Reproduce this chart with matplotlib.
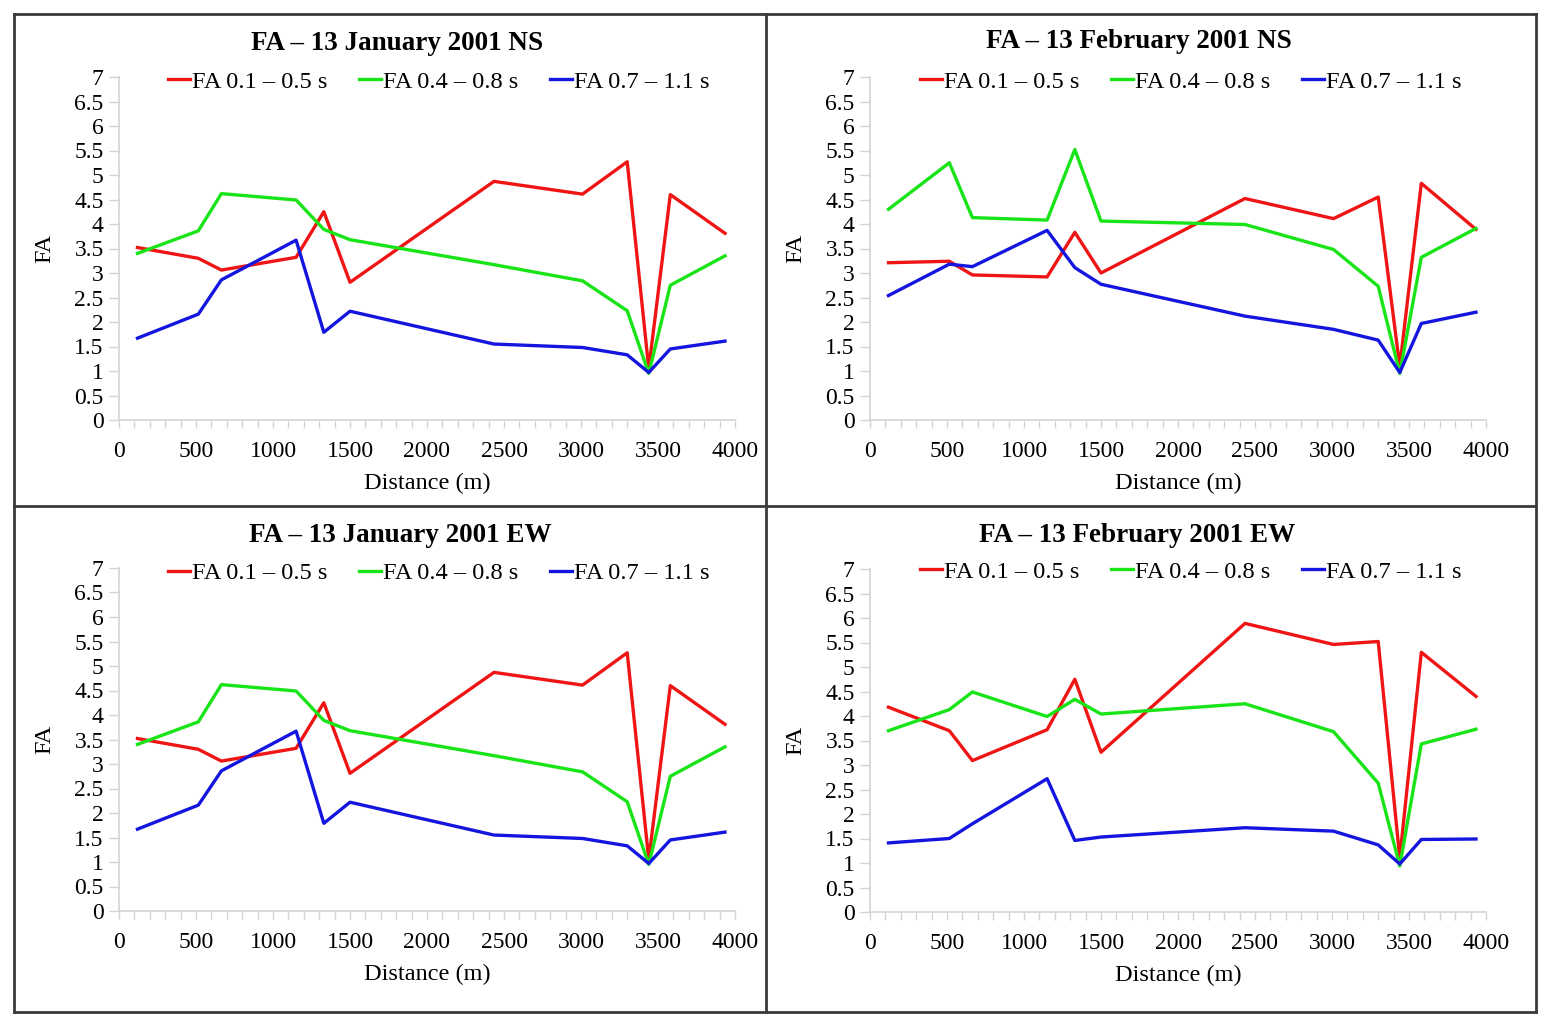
import numpy as np
import matplotlib
matplotlib.use('Agg')
import matplotlib.pyplot as plt
from matplotlib.lines import Line2D
from matplotlib.ticker import MultipleLocator, FormatStrFormatter

plt.rcParams['font.family'] = ['Liberation Serif', 'DejaVu Serif']

# distance of the stations (m)
distance = [120, 515, 665, 1150, 1330, 1500, 2435, 3010, 3300, 3440, 3580, 3935]

series_labels = ['FA 0.1 – 0.5 s', 'FA 0.4 – 0.8 s', 'FA 0.7 – 1.1 s']

# 13 January 2001 NS
jan_ns_01_05 = [3.52, 3.30, 3.06, 3.32, 4.25, 2.81, 4.87, 4.61, 5.27, 1.05, 4.60, 3.81]
jan_ns_04_08 = [3.40, 3.86, 4.62, 4.49, 3.89, 3.68, 3.17, 2.84, 2.23, 0.95, 2.75, 3.35]
jan_ns_07_11 = [1.67, 2.16, 2.86, 3.67, 1.79, 2.22, 1.55, 1.48, 1.33, 0.97, 1.45, 1.61]

# 13 February 2001 NS
feb_ns_01_05 = [3.21, 3.24, 2.96, 2.92, 3.83, 3.00, 4.52, 4.11, 4.55, 1.09, 4.83, 3.89]
feb_ns_04_08 = [4.30, 5.25, 4.13, 4.08, 5.52, 4.06, 3.99, 3.48, 2.73, 0.95, 3.32, 3.91]
feb_ns_07_11 = [2.54, 3.18, 3.13, 3.87, 3.11, 2.77, 2.12, 1.85, 1.63, 0.97, 1.97, 2.20]

# 13 January 2001 EW
jan_ew_01_05 = [3.52, 3.30, 3.06, 3.32, 4.25, 2.81, 4.87, 4.61, 5.27, 1.05, 4.60, 3.81]
jan_ew_04_08 = [3.40, 3.86, 4.62, 4.49, 3.89, 3.68, 3.17, 2.84, 2.23, 0.95, 2.75, 3.35]
jan_ew_07_11 = [1.67, 2.16, 2.86, 3.67, 1.79, 2.22, 1.55, 1.48, 1.33, 0.97, 1.45, 1.61]

# 13 February 2001 EW
feb_ew_01_05 = [4.18, 3.70, 3.09, 3.72, 4.75, 3.26, 5.89, 5.46, 5.52, 1.10, 5.30, 4.40]
feb_ew_04_08 = [3.70, 4.13, 4.49, 3.99, 4.34, 4.04, 4.25, 3.68, 2.63, 0.94, 3.43, 3.73]
feb_ew_07_11 = [1.41, 1.50, 1.80, 2.72, 1.46, 1.53, 1.72, 1.65, 1.37, 0.98, 1.48, 1.49]

colors = ['#f01515', '#18e418', '#1515e0']

W, H = 1549, 1026
fig = plt.figure(figsize=(W / 100, H / 100), dpi=100)


def px(x, y):
    # pixel coords (top-left origin) -> figure fraction
    return x / W, 1 - y / H


def draw_panel(left, top, title, title_x, title_y, legend_x, legend_y, data):
    x0, y1 = px(left, top)
    x1, y0 = px(left + 616, top + 343)
    ax = fig.add_axes([x0, y0, x1 - x0, y1 - y0])
    for vals, c, lab in zip(data, colors, series_labels):
        ax.plot(distance, vals, color=c, lw=2.4, label=lab, clip_on=False)
    ax.set_xlim(0, 4000)
    ax.set_ylim(0, 7)
    ax.xaxis.set_major_locator(MultipleLocator(500))
    ax.xaxis.set_minor_locator(MultipleLocator(100))
    ax.yaxis.set_major_locator(MultipleLocator(0.5))
    ax.yaxis.set_major_formatter(FormatStrFormatter('%g'))
    for s in ['top', 'right']:
        ax.spines[s].set_visible(False)
    for s in ['left', 'bottom']:
        ax.spines[s].set_color('#d4d4d4')
        ax.spines[s].set_linewidth(1.2)
    ax.tick_params(which='both', color='#d4d4d4', width=1.0, labelsize=17)
    ax.tick_params(axis='y', length=7, pad=4)
    ax.tick_params(axis='x', which='major', length=6, pad=9)
    ax.tick_params(axis='x', which='minor', length=6)
    ax.set_xlabel('Distance (m)', fontsize=17.5, labelpad=8)
    ax.set_ylabel('FA', fontsize=17.5, labelpad=14)
    fx, fy = px(title_x, title_y)
    fig.text(fx, fy, title, fontsize=19.5, fontweight='bold', ha='center', va='center')
    lx, ly = px(legend_x, legend_y)
    handles = [Line2D([], [], color=c, lw=2.4) for c in colors]
    fig.legend(handles, series_labels, loc='center', bbox_to_anchor=(lx, ly),
               ncol=3, frameon=False, fontsize=17.6, handlelength=0.9,
               handletextpad=0.08, columnspacing=1.3, borderaxespad=0)
    return ax


draw_panel(119, 77, 'FA – 13 January 2001 NS', 397, 43, 439, 82,
           [jan_ns_01_05, jan_ns_04_08, jan_ns_07_11])
draw_panel(870, 77, 'FA – 13 February 2001 NS', 1139, 42, 1191, 82,
           [feb_ns_01_05, feb_ns_04_08, feb_ns_07_11])
draw_panel(119, 568, 'FA – 13 January 2001 EW', 400, 535, 439, 573,
           [jan_ew_01_05, jan_ew_04_08, jan_ew_07_11])
draw_panel(870, 569, 'FA – 13 February 2001 EW', 1137, 535, 1191, 572,
           [feb_ew_01_05, feb_ew_04_08, feb_ew_07_11])

# panel frames
frame = '#3a3a3a'
for (xa, ya, xb, yb) in [(14, 14, 1536, 14), (14, 1012, 1536, 1012), (14, 14, 14, 1012),
                         (1536, 14, 1536, 1012), (766, 14, 766, 1012), (14, 506, 1536, 506)]:
    p0 = px(xa, ya)
    p1 = px(xb, yb)
    fig.add_artist(Line2D([p0[0], p1[0]], [p0[1], p1[1]], color=frame, lw=2.0,
                          transform=fig.transFigure))

plt.savefig('out.png', dpi=100)
